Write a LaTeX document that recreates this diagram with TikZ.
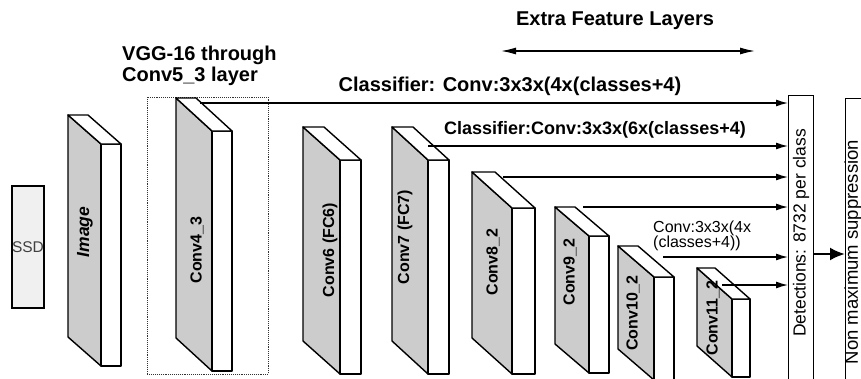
\documentclass[tikz,border=0pt]{standalone}
\usepackage{fontspec}
\setmainfont{Liberation Sans}
\usetikzlibrary{arrows.meta}

\tikzset{
  blockline/.style={line width=1.4pt, line join=round},
  feed/.style={line width=1.3pt, -{Latex[length=12pt,width=7pt]}},
  title/.style={font=\fontsize{20}{21}\selectfont\bfseries, inner sep=0pt},
  layername/.style={rotate=90, font=\fontsize{16}{16}\selectfont\bfseries, inner sep=0pt}
}

% 3D layer block: left x, top y, front width, depth x, depth y, height
\newcommand{\convblock}[6]{%
  \filldraw[blockline, fill=gray!40] (#1,#2) -- ({#1+#4},{#2+#5}) -- ({#1+#4},{#2+#5+#6}) -- (#1,{#2+#6}) -- cycle; % side face
  \filldraw[blockline, fill=white] ({#1+#4},{#2+#5}) rectangle ({#1+#4+#3},{#2+#5+#6}); % front face
  \filldraw[blockline, fill=white] (#1,#2) -- ({#1+#3},#2) -- ({#1+#4+#3},{#2+#5}) -- ({#1+#4},{#2+#5}) -- cycle; % top face
}

\begin{document}
\begin{tikzpicture}[x=1pt,y=-1pt]
\useasboundingbox (0,0) rectangle (861,378);

% SSD box
\node[draw, line width=1.2pt, fill=gray!12, minimum width=32pt, minimum height=122pt, inner sep=0pt,
      text=black!75, font=\fontsize{15.5}{16}\selectfont] (ssd) at (28,247) {SSD};

% VGG part
\draw[densely dotted, line width=0.9pt, black!80] (147,97) rectangle (268,374); % VGG frame
\convblock{68}{115}{20}{33}{29}{222}   % Image
\convblock{176}{98}{20}{36}{33}{240}   % Conv4_3

% Extra feature layers
\convblock{303}{127}{21}{37}{33}{214}  % Conv6
\convblock{392}{127}{21}{36}{33}{214}  % Conv7
\convblock{472}{172}{23}{40}{36}{166}  % Conv8_2
\convblock{555}{207}{20}{34}{29}{137}  % Conv9_2
\convblock{618}{246}{20}{36}{31}{103}  % Conv10_2
\convblock{697}{268}{18}{35}{31}{78}   % Conv11_2

% Layer names
\node[layername, font=\fontsize{17.5}{17}\selectfont\bfseries\itshape] (limage) at (85,232) {Image};
\node[layername] (lc43) at (197,250) {Conv4\_3};
\node[layername] (lc6) at (330,250) {Conv6 (FC6)};
\node[layername] (lc7) at (405,237) {Conv7 (FC7)};
\node[layername] (lc82) at (493,262) {Conv8\_2};
\node[layername] (lc92) at (570,272) {Conv9\_2};
\node[layername] (lc102) at (633,313) {Conv10\_2};
\node[layername] (lc112) at (713,318) {Conv11\_2};

% Output boxes
\node[draw, line width=1.2pt, fill=white, minimum width=25pt, minimum height=310pt, anchor=north west] (det) at (788,95) {};
\node[draw, line width=1.2pt, fill=white, minimum width=30pt, minimum height=310pt, anchor=north west] (nms) at (845,98) {};
\node[rotate=90, font=\fontsize{17.5}{18}\selectfont, inner sep=0pt] (ldet) at (801,233) {Detections: 8732 per class};
\node[rotate=90, font=\fontsize{18.5}{19}\selectfont, inner sep=0pt] (lnms) at (853,252) {Non maximum suppression};

% Classifier feeds
\coordinate (f43) at (200,103);
\coordinate (f7) at (428,146);
\coordinate (f82) at (503,177);
\coordinate (f92) at (583,207);
\coordinate (f102) at (663,257);
\coordinate (f112) at (722,285);
\draw[feed] (f43) -- (f43 -| det.west);
\draw[feed] (f7) -- (f7 -| det.west);
\draw[feed] (f82) -- (f82 -| det.west);
\draw[feed] (f92) -- (f92 -| det.west);
\draw[feed] (f102) -- (f102 -| det.west);
\draw[feed] (f112) -- (f112 -| det.west);

% Detections to NMS
\coordinate (dm) at (0,254);
\draw[line width=2.4pt, -{Latex[length=15pt,width=13pt]}] (det.east |- dm) -- (nms.west |- dm);

% Extra feature layers span
\coordinate (efl) at (501,51);
\coordinate (efr) at (755,51);
\draw[line width=1.3pt, {Latex[length=15pt,width=7pt]}-{Latex[length=15pt,width=7pt]}] (efl) -- (efr);

% Titles
\node[title] (tefl) at (615,21) {Extra Feature Layers};
\node[title, anchor=west, align=left] (tvgg) at (122,66) {VGG-16 through\\Conv5\_3 layer};
\node[title] (tcls1) at (510,86) {Classifier: Conv:3x3x(4x(classes+4)};
\node[title, font=\fontsize{18}{18}\selectfont\bfseries] (tcls2) at (595,130) {Classifier:Conv:3x3x(6x(classes+4)};
\node[font=\fontsize{16}{15}\selectfont, anchor=west, align=left, inner sep=0pt] (tcls3) at (653,236) {Conv:3x3x(4x\\(classes+4))};

\end{tikzpicture}
\end{document}
